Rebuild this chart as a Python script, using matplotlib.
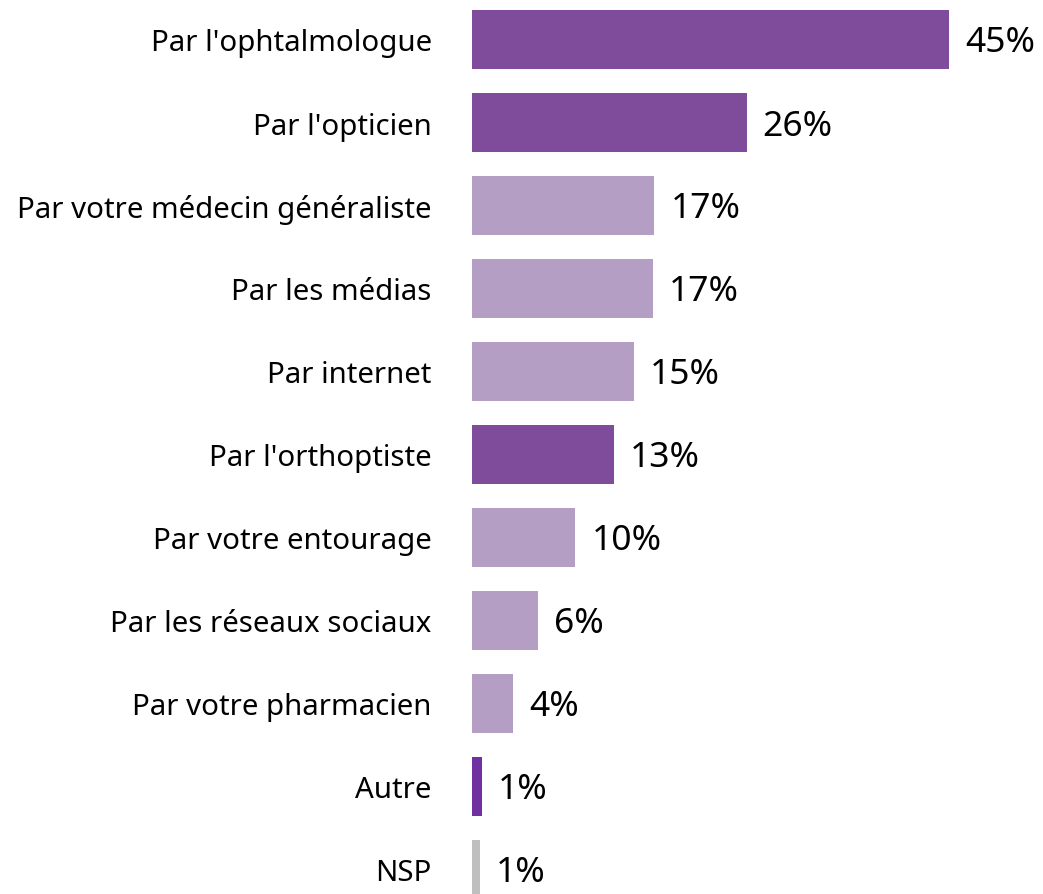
import matplotlib
matplotlib.use("Agg")
import matplotlib.pyplot as plt

categories = ["Par l'ophtalmologue", "Par l'opticien", "Par votre médecin généraliste",
              "Par les médias", "Par internet", "Par l'orthoptiste", "Par votre entourage",
              "Par les réseaux sociaux", "Par votre pharmacien", "Autre", "NSP"]
values = [45.0, 25.9, 17.2, 17.1, 15.3, 13.4, 9.75, 6.2, 3.85, 0.95, 0.75]
value_labels = ["45%", "26%", "17%", "17%", "15%", "13%", "10%", "6%", "4%", "1%", "1%"]
colors = ["#7F4C9B", "#7F4C9B", "#B59EC4", "#B59EC4", "#B59EC4", "#7F4C9B", "#B59EC4",
          "#B59EC4", "#B59EC4", "#7030A0", "#BFBFBF"]

W, H = 1043, 895
fig = plt.figure(figsize=(W / 100, H / 100), dpi=100)
left_px = 472
px_per_unit = 10.6
top_px = 40.5 - 41.5
bottom_px = 870.5 + 41.5
ax = fig.add_axes([left_px / W, 1 - bottom_px / H, 1 - left_px / W, (bottom_px - top_px) / H])
ax.set_xlim(0, (W - left_px) / px_per_unit)
ax.set_ylim(len(categories) - 0.5, -0.5)

y = list(range(len(categories)))
ax.barh(y, values, height=0.72, color=colors)
font = "Noto Sans"
for i, (v, lab) in enumerate(zip(values, value_labels)):
    ax.annotate(lab, (v, i), xytext=(16, -3), textcoords="offset pixels",
                va="center", ha="left", fontsize=25.5, family=font, color="#000000")
ax.set_yticks(y)
ax.set_yticklabels(categories, fontsize=21.2, family=font)
ax.tick_params(axis="y", length=0, pad=29)
ax.set_xticks([])
for s in ax.spines.values():
    s.set_visible(False)

fig.savefig("out.png", dpi=100)
